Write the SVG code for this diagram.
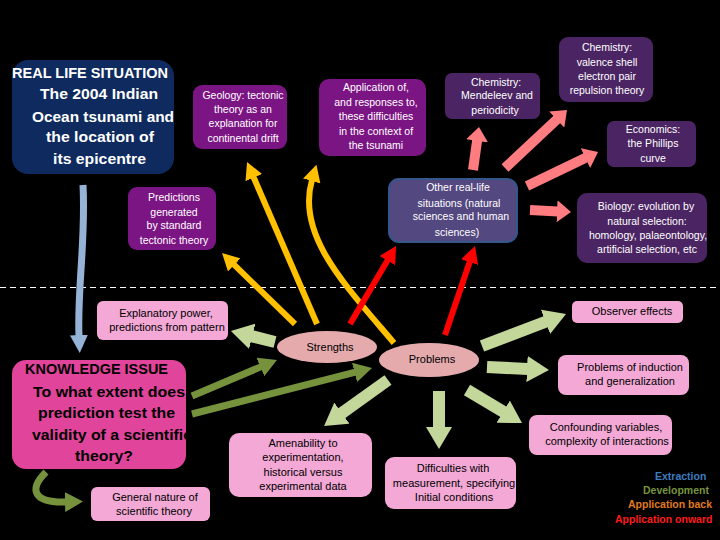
<svg xmlns="http://www.w3.org/2000/svg" width="720" height="540" viewBox="0 0 720 540">
<defs>
<style>
text{font-family:"Liberation Sans",Arial,Helvetica,sans-serif}
.w{fill:#ffffff;font-size:10.5px;text-anchor:middle}
.k{fill:#000000;font-size:11px;text-anchor:middle}
.bigw{fill:#ffffff;font-size:15px;font-weight:bold}
.bigk{fill:#000000;font-size:15px;font-weight:bold}
.leg{font-size:10.5px;font-weight:bold}
.purple{fill:#7b1584}
.dpurple{fill:#4b2563}
.pink{fill:#f3a8d5}
.ell{fill:#e4aaac}
.cBlue{fill:none;stroke:#95b3d7;stroke-width:7}
.cDG{fill:none;stroke:#76923c;stroke-width:7}
.cLG{fill:none;stroke:#c4d79b;stroke-width:12}
.cOr{fill:none;stroke:#ffc000;stroke-width:6}
.cRed{fill:none;stroke:#ff0000;stroke-width:6}
.cSal{fill:none;stroke:#ff7c80;stroke-width:10}
</style>
<marker id="hBlue" viewBox="0 0 18 18" refX="1" refY="9" markerWidth="18" markerHeight="18" markerUnits="userSpaceOnUse" orient="auto"><path d="M0,0L18,9L0,18z" fill="#95b3d7"/></marker>
<marker id="hDG" viewBox="0 0 18 20" refX="1" refY="10" markerWidth="18" markerHeight="20" markerUnits="userSpaceOnUse" orient="auto"><path d="M0,0L18,10L0,20z" fill="#76923c"/></marker>
<marker id="hLG" viewBox="0 0 22 26" refX="1" refY="13" markerWidth="22" markerHeight="26" markerUnits="userSpaceOnUse" orient="auto"><path d="M0,0L22,13L0,26z" fill="#c4d79b"/></marker>
<marker id="hOr" viewBox="0 0 17 18" refX="1" refY="9" markerWidth="17" markerHeight="18" markerUnits="userSpaceOnUse" orient="auto"><path d="M0,0L17,9L0,18z" fill="#ffc000"/></marker>
<marker id="hRed" viewBox="0 0 17 18" refX="1" refY="9" markerWidth="17" markerHeight="18" markerUnits="userSpaceOnUse" orient="auto"><path d="M0,0L17,9L0,18z" fill="#ff0000"/></marker>
<marker id="hSal" viewBox="0 0 14 22" refX="1" refY="11" markerWidth="14" markerHeight="22" markerUnits="userSpaceOnUse" orient="auto"><path d="M0,0L14,11L0,22z" fill="#ff7c80"/></marker>
</defs>
<rect x="0" y="0" width="720" height="540" fill="#000000"/>
<line x1="0" y1="287.5" x2="720" y2="287.5" stroke="#ffffff" stroke-width="1" stroke-dasharray="6,4"/>

<g id="connectors">
<path class="cBlue" d="M83,185 C86,240 77,290 79,336" marker-end="url(#hBlue)"/>
<path class="cDG" d="M192,396 L261.3,366.6" marker-end="url(#hDG)"/>
<path class="cDG" d="M192,414 L355.5,372.2" marker-end="url(#hDG)"/>
<path class="cDG" d="M46,472 C28,490 34,503 66,502" marker-end="url(#hDG)"/>
<path class="cLG" d="M275,342 L251.3,336.1" marker-end="url(#hLG)"/>
<path class="cLG" d="M388,380 L341.1,413.7" marker-end="url(#hLG)"/>
<path class="cLG" d="M439,391 L439,428" marker-end="url(#hLG)"/>
<path class="cLG" d="M467,390 L504,412.2" marker-end="url(#hLG)"/>
<path class="cLG" d="M487,367 L528,369" marker-end="url(#hLG)"/>
<path class="cLG" d="M482,346 L546.4,321.5" marker-end="url(#hLG)"/>
<path class="cOr" d="M295,324 L233.5,264.2" marker-end="url(#hOr)"/>
<path class="cOr" d="M317,324 L253.4,176.7" marker-end="url(#hOr)"/>
<path class="cOr" d="M394,343 C345,285 296,235 312,180" marker-end="url(#hOr)"/>
<path class="cRed" d="M350,324 L387.9,259.8" marker-end="url(#hRed)"/>
<path class="cRed" d="M445,335 L469.9,261.2" marker-end="url(#hRed)"/>
<path class="cSal" d="M473,170 L477.2,139.9" marker-end="url(#hSal)"/>
<path class="cSal" d="M505,168 L557.5,118.9" marker-end="url(#hSal)"/>
<path class="cSal" d="M527,186 L586.3,157.6" marker-end="url(#hSal)"/>
<path class="cSal" d="M530,210 L558,211.4" marker-end="url(#hSal)"/>
</g>

<g id="real-life">
<rect x="12" y="60" width="162" height="114" rx="16" fill="#0e2a5e"/>
<text class="bigw" x="12" y="78" textLength="156" lengthAdjust="spacingAndGlyphs">REAL LIFE SITUATION</text>
<text class="bigw" x="40" y="99" textLength="118" lengthAdjust="spacingAndGlyphs">The 2004 Indian</text>
<text class="bigw" x="32" y="122" textLength="142" lengthAdjust="spacingAndGlyphs">Ocean tsunami and</text>
<text class="bigw" x="46" y="142" textLength="108" lengthAdjust="spacingAndGlyphs">the location of</text>
<text class="bigw" x="53" y="164" textLength="93" lengthAdjust="spacingAndGlyphs">its epicentre</text>
</g>

<g id="geology">
<rect x="193" y="85" width="94" height="64" rx="9" class="purple"/>
<text class="w" x="243" y="99">Geology: tectonic</text>
<text class="w" x="243" y="113">theory as an</text>
<text class="w" x="243" y="127">explanation for</text>
<text class="w" x="243" y="142">continental drift</text>
</g>

<g id="application">
<rect x="319" y="79" width="107" height="77" rx="10" class="purple"/>
<text class="w" x="376" y="91">Application of,</text>
<text class="w" x="376" y="106">and responses to,</text>
<text class="w" x="376" y="120">these difficulties</text>
<text class="w" x="376" y="135">in the context of</text>
<text class="w" x="376" y="149">the tsunami</text>
</g>

<g id="chem-mendeleev">
<rect x="445" y="73" width="95" height="46" rx="7" class="dpurple"/>
<text class="w" x="496" y="86">Chemistry:</text>
<text class="w" x="497" y="99">Mendeleev and</text>
<text class="w" x="495" y="114">periodicity</text>
</g>

<g id="chem-vsepr">
<rect x="559" y="37" width="94" height="65" rx="9" class="dpurple"/>
<text class="w" x="607" y="51">Chemistry:</text>
<text class="w" x="607" y="66">valence shell</text>
<text class="w" x="607" y="80">electron pair</text>
<text class="w" x="607" y="94">repulsion theory</text>
</g>

<g id="economics">
<rect x="607" y="121" width="89" height="46" rx="7" class="dpurple"/>
<text class="w" x="653" y="133">Economics:</text>
<text class="w" x="653" y="147">the Phillips</text>
<text class="w" x="653" y="162">curve</text>
</g>

<g id="other-real-life">
<rect x="389" y="179" width="128" height="63" rx="10" fill="#544880" stroke="#34568a" stroke-width="2"/>
<text class="w" x="458" y="191">Other real-life</text>
<text class="w" x="459" y="207">situations (natural</text>
<text class="w" x="461" y="220">sciences and human</text>
<text class="w" x="457" y="236">sciences)</text>
</g>

<g id="biology">
<rect x="577" y="193" width="130" height="70" rx="10" class="dpurple"/>
<text class="w" x="646" y="210">Biology: evolution by</text>
<text class="w" x="647" y="225">natural selection:</text>
<text class="w" x="648" y="239">homology, palaeontology,</text>
<text class="w" x="647" y="253">artificial selection, etc</text>
</g>

<g id="predictions">
<rect x="128" y="187" width="88" height="63" rx="9" class="purple"/>
<text class="w" x="174" y="201">Predictions</text>
<text class="w" x="174" y="216">generated</text>
<text class="w" x="174" y="229">by standard</text>
<text class="w" x="174" y="244">tectonic theory</text>
</g>

<g id="explanatory">
<rect x="97" y="301" width="131" height="39" rx="6" class="pink"/>
<text class="k" x="166" y="317">Explanatory power,</text>
<text class="k" x="167" y="331">predictions from pattern</text>
</g>

<g id="strengths">
<ellipse cx="327" cy="347" rx="50" ry="16" class="ell"/>
<text class="k" x="330" y="351">Strengths</text>
</g>

<g id="problems">
<ellipse cx="429" cy="360" rx="50" ry="17" class="ell"/>
<text class="k" x="432" y="363">Problems</text>
</g>

<g id="knowledge-issue">
<rect x="12" y="360" width="174" height="109" rx="14" fill="#e0449b"/>
<text class="bigk" x="25" y="374" textLength="143" lengthAdjust="spacingAndGlyphs">KNOWLEDGE ISSUE</text>
<text class="bigk" x="33" y="397" textLength="152" lengthAdjust="spacingAndGlyphs">To what extent does</text>
<text class="bigk" x="38" y="418" textLength="137" lengthAdjust="spacingAndGlyphs">prediction test the</text>
<text class="bigk" x="32" y="440" textLength="160" lengthAdjust="spacingAndGlyphs">validity of a scientific</text>
<text class="bigk" x="75" y="461" textLength="58" lengthAdjust="spacingAndGlyphs">theory?</text>
</g>

<g id="general-nature">
<rect x="91" y="487" width="119" height="34" rx="6" class="pink"/>
<text class="k" x="155" y="501">General nature of</text>
<text class="k" x="154" y="515">scientific theory</text>
</g>

<g id="amenability">
<rect x="229" y="433" width="143" height="64" rx="10" class="pink"/>
<text class="k" x="303" y="447">Amenability to</text>
<text class="k" x="303" y="461">experimentation,</text>
<text class="k" x="303" y="476">historical versus</text>
<text class="k" x="303" y="490">experimental data</text>
</g>

<g id="difficulties">
<rect x="385" y="457" width="131" height="52" rx="9" class="pink"/>
<text class="k" x="453" y="472">Difficulties with</text>
<text class="k" x="454" y="487">measurement, specifying</text>
<text class="k" x="454" y="501">Initial conditions</text>
</g>

<g id="observer">
<rect x="572" y="301" width="111" height="22" rx="5" class="pink"/>
<text class="k" x="632" y="315">Observer effects</text>
</g>

<g id="induction">
<rect x="558" y="355" width="131" height="40" rx="8" class="pink"/>
<text class="k" x="630" y="371">Problems of induction</text>
<text class="k" x="630" y="385">and generalization</text>
</g>

<g id="confounding">
<rect x="529" y="415" width="143" height="40" rx="8" class="pink"/>
<text class="k" x="606" y="431">Confounding variables,</text>
<text class="k" x="607" y="445">complexity of interactions</text>
</g>

<g id="legend">
<text class="leg" x="655" y="480" fill="#3d7cc0">Extraction</text>
<text class="leg" x="643" y="494" fill="#77933c">Development</text>
<text class="leg" x="628" y="508" fill="#e27a1e">Application back</text>
<text class="leg" x="615" y="523" fill="#ff1a1a">Application onward</text>
</g>
</svg>
